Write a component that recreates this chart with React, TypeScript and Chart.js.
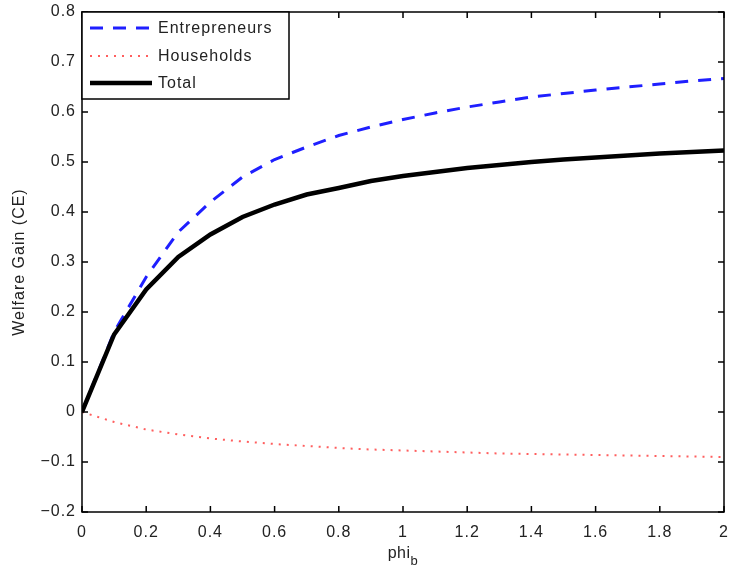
import React, { useEffect, useRef } from "react";
import { Chart, registerables } from "chart.js";

Chart.register(...registerables);

const phiB = [0, 0.1, 0.2, 0.3, 0.4, 0.5, 0.6, 0.7, 0.8, 0.9, 1.0, 1.1, 1.2, 1.3, 1.4, 1.5, 1.6, 1.7, 1.8, 1.9, 2.0];
const entrepreneurs = [0, 0.16, 0.27, 0.36, 0.42, 0.47, 0.505, 0.53, 0.553, 0.57, 0.585, 0.598, 0.61, 0.62, 0.63, 0.637, 0.644, 0.65, 0.656, 0.662, 0.667];
const households = [0, -0.02, -0.035, -0.045, -0.053, -0.059, -0.064, -0.068, -0.072, -0.075, -0.077, -0.079, -0.081, -0.083, -0.084, -0.085, -0.086, -0.087, -0.088, -0.089, -0.09];
const total = [0, 0.155, 0.245, 0.31, 0.355, 0.39, 0.415, 0.435, 0.448, 0.462, 0.472, 0.48, 0.488, 0.494, 0.5, 0.505, 0.509, 0.513, 0.517, 0.52, 0.523];
const seriesLabels = ["Entrepreneurs", "Households", "Total"];
const xTitle = "phi";
const xTitleSub = "b";
const yTitle = "Welfare Gain (CE)";

const FONT = "'Liberation Sans', Arial, sans-serif";

const spacingPlugin = {
  id: "spacing",
  beforeDraw(chart: any) {
    (chart.ctx as any).letterSpacing = "1px";
  },
};

const boxPlugin = {
  id: "matlabBox",
  afterDatasetsDraw(chart: any) {
    const { ctx, chartArea } = chart;
    const { left, right, top, bottom } = chartArea;
    const xs = chart.scales.x;
    const ys = chart.scales.y;
    ctx.save();
    ctx.strokeStyle = "#000";
    ctx.lineWidth = 1.5;
    ctx.strokeRect(left, top, right - left, bottom - top);
    const tl = 6;
    ctx.beginPath();
    xs.ticks.forEach((t: any) => {
      const px = xs.getPixelForValue(t.value);
      ctx.moveTo(px, bottom);
      ctx.lineTo(px, bottom - tl);
      ctx.moveTo(px, top);
      ctx.lineTo(px, top + tl);
    });
    ys.ticks.forEach((t: any) => {
      const py = ys.getPixelForValue(t.value);
      ctx.moveTo(left, py);
      ctx.lineTo(left + tl, py);
      ctx.moveTo(right, py);
      ctx.lineTo(right - tl, py);
    });
    ctx.stroke();

    // legend
    const lx = left, ly = top, lw = 207, lh = 87;
    ctx.fillStyle = "#fff";
    ctx.fillRect(lx, ly, lw, lh);
    ctx.lineWidth = 1.5;
    ctx.strokeRect(lx, ly, lw, lh);
    const rows = [16, 44, 71];
    chart.data.datasets.forEach((ds: any, i: number) => {
      const y = ly + rows[i];
      ctx.save();
      ctx.strokeStyle = ds.borderColor;
      ctx.lineWidth = ds.borderWidth;
      ctx.setLineDash(ds.borderDash || []);
      ctx.beginPath();
      ctx.moveTo(lx + 8, y);
      ctx.lineTo(lx + 70, y);
      ctx.stroke();
      ctx.restore();
      ctx.fillStyle = "#222";
      ctx.font = `16px ${FONT}`;
      ctx.textBaseline = "middle";
      ctx.textAlign = "left";
      ctx.fillText(ds.label, lx + 76, y + 1);
    });

    // x title with subscript
    ctx.letterSpacing = "0.5px";
    ctx.fillStyle = "#222";
    ctx.font = `16px ${FONT}`;
    ctx.textBaseline = "alphabetic";
    ctx.textAlign = "left";
    const w1 = ctx.measureText(xTitle).width;
    ctx.font = `13px ${FONT}`;
    const w2 = ctx.measureText(xTitleSub).width;
    const cx = (left + right) / 2;
    const sx = cx - (w1 + w2) / 2;
    ctx.font = `16px ${FONT}`;
    ctx.fillText(xTitle, sx, 558);
    ctx.font = `13px ${FONT}`;
    ctx.fillText(xTitleSub, sx + w1, 565);
    ctx.restore();
  },
};

const fmt = (v: number) => {
  const s = String(Number(v.toFixed(1)));
  return s.startsWith("-") ? "\u2212" + s.slice(1) : s;
};

export default function App() {
  const ref = useRef<HTMLCanvasElement>(null);
  useEffect(() => {
    document.body.style.margin = "0";
    const chart = new Chart(ref.current as HTMLCanvasElement, {
      type: "line",
      data: {
        datasets: [
          {
            label: seriesLabels[0],
            data: phiB.map((x, i) => ({ x, y: entrepreneurs[i] })),
            borderColor: "#1f1fff",
            borderWidth: 3,
            borderDash: [13, 10],
            pointRadius: 0,
            tension: 0,
            order: 3,
          },
          {
            label: seriesLabels[1],
            data: phiB.map((x, i) => ({ x, y: households[i] })),
            borderColor: "rgba(255,40,40,0.75)",
            borderWidth: 2,
            borderDash: [2, 6],
            pointRadius: 0,
            tension: 0,
            order: 2,
          },
          {
            label: seriesLabels[2],
            data: phiB.map((x, i) => ({ x, y: total[i] })),
            borderColor: "#000",
            borderWidth: 4.5,
            pointRadius: 0,
            tension: 0,
            order: 1,
          },
        ],
      },
      options: {
        responsive: false,
        animation: false,
        devicePixelRatio: 1,
        layout: { padding: { top: 12, right: 6, left: 0, bottom: 0 } },
        plugins: { legend: { display: false }, tooltip: { enabled: false } },
        scales: {
          x: {
            type: "linear",
            min: 0,
            max: 2,
            ticks: {
              stepSize: 0.2,
              color: "#222",
              font: { family: FONT, size: 16 },
              padding: 11,
              maxRotation: 0,
              callback: (v: any) => fmt(Number(v)),
            },
            grid: { display: false, drawTicks: false },
            border: { display: false },
            afterFit: (s: any) => {
              s.height = 59;
              s.paddingLeft = 0;
              s.paddingRight = 0;
            },
          },
          y: {
            min: -0.2,
            max: 0.8,
            ticks: {
              stepSize: 0.1,
              color: "#222",
              font: { family: FONT, size: 16 },
              padding: 6,
              callback: (v: any) => fmt(Number(v)),
            },
            grid: { display: false, drawTicks: false },
            border: { display: false },
            title: {
              display: true,
              text: yTitle,
              color: "#222",
              font: { family: FONT, size: 16 },
              padding: { top: 10, bottom: 0 },
            },
            afterFit: (s: any) => {
              s.width = 82;
              s.paddingTop = 0;
              s.paddingBottom = 0;
            },
          },
        },
      },
      plugins: [spacingPlugin, boxPlugin],
    });
    return () => chart.destroy();
  }, []);
  return (
    <div style={{ width: 730, height: 571, background: "#fff" }}>
      <canvas ref={ref} width={730} height={571} />
    </div>
  );
}
